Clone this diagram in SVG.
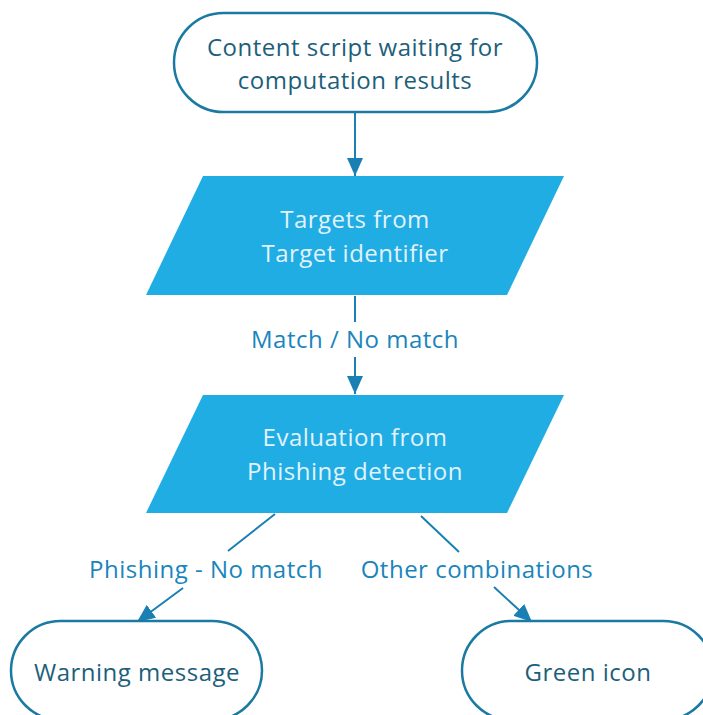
<svg xmlns="http://www.w3.org/2000/svg" width="703" height="715" viewBox="0 0 703 715">
  <style>
    .term { fill: #ffffff; stroke: #1b7aa1; stroke-width: 2.5; }
    .io { fill: #1fade4; stroke: none; }
    .t { font-family: "Open Sans", "Noto Sans", sans-serif; font-size: 24px; letter-spacing: 0.5px; text-anchor: middle; }
    .dark { fill: #1d5f7b; }
    .light { fill: #e2f2fb; }
    .lbl { fill: #1a85bb; }
    .conn { fill: none; stroke: #1a80b3; stroke-width: 2; }
  </style>
  <defs>
    <marker id="arrow" viewBox="0 0 18 16" refX="18" refY="8" markerWidth="18" markerHeight="16" markerUnits="userSpaceOnUse" orient="auto">
      <path d="M0,0 L18,8 L0,16 Z" fill="#1a80b3"/>
    </marker>
  </defs>

  <rect width="703" height="715" fill="#ffffff"/>

  <!-- connectors -->
  <g id="connectors">
    <path class="conn" d="M355,113 L355,176" marker-end="url(#arrow)"/>
    <path class="conn" d="M355,296 L355,322 M355,357 L355,394" marker-end="url(#arrow)"/>
    <path class="conn" d="M275,514 L228,551 M183,588 L137,622" marker-end="url(#arrow)"/>
    <path class="conn" d="M421,516 L459,552 M494,587 L532,622" marker-end="url(#arrow)"/>
    <text class="t lbl" x="355" y="348">Match / No match</text>
    <text class="t lbl" x="206" y="578">Phishing - No match</text>
    <text class="t lbl" x="477" y="578">Other combinations</text>
  </g>

  <!-- start: waiting for results -->
  <g id="start">
    <rect class="term" x="174" y="13" width="363" height="99" rx="49.5" ry="49.5"/>
    <text class="t dark" x="355" y="56">Content script waiting for</text>
    <text class="t dark" x="355" y="89">computation results</text>
  </g>

  <!-- targets input -->
  <g id="targets">
    <polygon class="io" points="203,176 564,176 507,295 146,295"/>
    <text class="t light" x="355" y="228">Targets from</text>
    <text class="t light" x="355" y="262">Target identifier</text>
  </g>

  <!-- phishing evaluation input -->
  <g id="evaluation">
    <polygon class="io" points="203,395 564,395 507,513 146,513"/>
    <text class="t light" x="355" y="446">Evaluation from</text>
    <text class="t light" x="355" y="480">Phishing detection</text>
  </g>

  <!-- outcome: warning -->
  <g id="warning">
    <rect class="term" x="11" y="621" width="251" height="99" rx="49.5" ry="49.5"/>
    <text class="t dark" x="137" y="681">Warning message</text>
  </g>

  <!-- outcome: green icon -->
  <g id="green">
    <rect class="term" x="462" y="621" width="251" height="99" rx="49.5" ry="49.5"/>
    <text class="t dark" x="588" y="681">Green icon</text>
  </g>
</svg>
